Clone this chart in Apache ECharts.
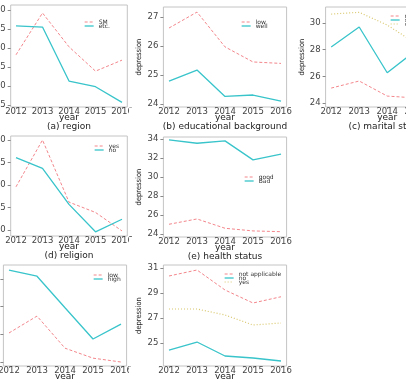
<!DOCTYPE html>
<html>
<head>
<meta charset="utf-8">
<title>depression by year</title>
<script src="https://cdn.jsdelivr.net/npm/echarts@6/dist/echarts.min.js"></script>
<style>
  html, body { margin: 0; padding: 0; background: #fff; }
  #chart { width: 406px; height: 379px; }
</style>
</head>
<body>
<div id="chart"></div>
<script>
const years = [2012, 2013, 2014, 2015, 2016];

// (a) region
const regionSM = [25.82, 26.92, 26.03, 25.39, 25.68];
const regionEtc = [26.58, 26.55, 25.13, 24.98, 24.57];
const regionTicks = ['24.5', '25.0', '25.5', '26.0', '26.5', '27.0'];

// (b) educational background
const eduLow = [26.62, 27.17, 25.97, 25.45, 25.40];
const eduWell = [24.79, 25.17, 24.26, 24.31, 24.10];
const eduTicks = ['24', '25', '26', '27'];

// (c) marital status (cut off on the right)
const maritalMarried = [25.12, 25.65, 24.52, 24.38, 24.50];
const maritalSingle = [28.20, 29.70, 26.27, 27.90, 27.40];
const maritalOther = [30.67, 30.80, 29.85, 28.50, 28.80];
const maritalTicks = ['24', '26', '28', '30'];

// (d) religion
const religionYes = [25.96, 27.00, 25.62, 25.39, 24.98];
const religionNo = [26.61, 26.37, 25.57, 24.96, 25.24];
const religionTicks = ['25.0', '25.5', '26.0', '26.5', '27.0'];

// (e) health status
const healthGood = [25.02, 25.58, 24.60, 24.32, 24.24];
const healthBad = [33.90, 33.55, 33.80, 31.80, 32.40];
const healthTicks = ['24', '26', '28', '30', '32', '34'];

// third row, captions are cut off at the bottom
const incomeLow = [25.05, 25.66, 24.50, 24.14, 24.00];
const incomeHigh = [27.32, 27.10, 25.96, 24.83, 25.37];
const incomeTicks = ['24', '25', '26', '27'];

const insuranceNA = [30.36, 30.84, 29.24, 28.20, 28.70];
const insuranceNo = [24.44, 25.08, 23.96, 23.80, 23.56];
const insuranceYes = [27.72, 27.72, 27.24, 26.44, 26.60];
const insuranceTicks = ['25', '27', '29', '31'];

const STYLES = {
  pink: { color: '#f3868c', width: 1, type: [3, 2] },
  teal: { color: '#38c4ca', width: 1.3, type: 'solid' },
  yellow: { color: '#d8c76c', width: 1.2, type: [1, 2] }
};

const FONT = 'DejaVu Sans';

const panels = [
  { rect: [10.7, 5, 116.6, 102], y: [24.447, 27.13], ticks: regionTicks, caption: '(a) region', legend: [84, 19],
    lines: [['SM', regionSM, 'pink'], ['etc.', regionEtc, 'teal']] },
  { rect: [163.4, 7, 123.2, 100], y: [23.897, 27.345], ticks: eduTicks, caption: '(b) educational background', legend: [241, 19],
    lines: [['low', eduLow, 'pink'], ['well', eduWell, 'teal']] },
  { rect: [325.6, 7, 123.2, 100], y: [23.7, 31.2], ticks: maritalTicks, caption: '(c) marital status', legend: [390, 13],
    lines: [['married', maritalMarried, 'pink'], ['single', maritalSingle, 'teal'], ['divorced', maritalOther, 'yellow']] },
  { rect: [10.7, 136, 116.6, 100], y: [24.867, 27.089], ticks: religionTicks, caption: '(d) religion', legend: [94, 143],
    lines: [['yes', religionYes, 'pink'], ['no', religionNo, 'teal']] },
  { rect: [163.4, 137, 123.2, 100], y: [23.68, 34.21], ticks: healthTicks, caption: '(e) health status', legend: [244, 174],
    lines: [['good', healthGood, 'pink'], ['Bad', healthBad, 'teal']] },
  { rect: [3.4, 265, 123.2, 101], y: [23.856, 27.506], ticks: incomeTicks, caption: '', legend: [93, 272],
    lines: [['low', incomeLow, 'pink'], ['high', incomeHigh, 'teal']] },
  { rect: [163.4, 265, 123.2, 101], y: [23.16, 31.24], ticks: insuranceTicks, caption: '', legend: [224, 271],
    lines: [['not applicable', insuranceNA, 'pink'], ['no', insuranceNo, 'teal'], ['yes', insuranceYes, 'yellow']] }
];

const option = {
  animation: false,
  backgroundColor: '#fff',
  grid: [], xAxis: [], yAxis: [], series: [], legend: [], graphic: []
};

panels.forEach((p, i) => {
  const [left, top, width, height] = p.rect;
  const tickValues = p.ticks.map(Number);

  option.grid.push({
    left, top, width, height,
    show: true, borderColor: '#c4c4c4', borderWidth: 1,
    outerBoundsMode: 'none'
  });

  option.xAxis.push({
    type: 'value', gridIndex: i, min: 2011.8, max: 2016.2,
    name: 'year', nameLocation: 'middle', nameGap: 6, nameMoveOverlap: false,
    nameTextStyle: { fontFamily: FONT, fontSize: 9, color: '#222' },
    axisLine: { show: false, onZero: false },
    splitLine: { show: false },
    axisTick: { customValues: years, length: 2, lineStyle: { color: '#888' } },
    axisLabel: {
      customValues: years, margin: 0, fontFamily: FONT, fontSize: 8.5, color: '#444',
      formatter: v => String(v)
    }
  });

  option.yAxis.push({
    type: 'value', gridIndex: i, min: p.y[0], max: p.y[1],
    name: 'depression', nameLocation: 'middle', nameGap: 20, nameRotate: 90, nameMoveOverlap: false,
    nameTextStyle: { fontFamily: "'Liberation Sans Narrow', 'DejaVu Sans Condensed', 'Liberation Sans', sans-serif", fontSize: 7.5, color: '#222' },
    axisLine: { show: false, onZero: false },
    splitLine: { show: false },
    axisTick: { customValues: tickValues, length: 3, lineStyle: { color: '#888' } },
    axisLabel: {
      customValues: tickValues, margin: 5, fontFamily: FONT, fontSize: 8.5, color: '#444',
      formatter: v => p.ticks.find(t => Math.abs(Number(t) - v) < 1e-6) || ''
    }
  });

  p.lines.forEach(([name, values, style]) => {
    option.series.push({
      name, type: 'line', xAxisIndex: i, yAxisIndex: i,
      data: years.map((yr, k) => [yr, values[k]]),
      symbol: 'none', silent: true,
      itemStyle: { color: STYLES[style].color },
      lineStyle: STYLES[style]
    });
  });

  option.legend.push({
    left: p.legend[0], top: p.legend[1],
    orient: 'vertical', padding: 0, itemGap: -2,
    itemWidth: 9, itemHeight: 4, selectedMode: false,
    textStyle: { fontFamily: FONT, fontSize: 6, lineHeight: 4, color: '#333' },
    data: p.lines.map(([name, , style]) => ({
      name, lineStyle: STYLES[style], itemStyle: { opacity: 0 }
    }))
  });

  if (p.caption) {
    option.graphic.push({
      type: 'text', x: left + width / 2, y: top + height + 20, z: 50,
      style: { text: p.caption, fontFamily: FONT, fontSize: 9, fill: '#222', align: 'center', verticalAlign: 'middle' }
    });
  }
});

// the neighbouring subfigure hides the last digit of the left column's "2016"
[107.5, 237, 366.5].forEach(y => {
  option.graphic.push({
    type: 'rect', z: 100,
    shape: { x: 129, y, width: 9, height: 10 },
    style: { fill: '#fff' }
  });
});

const myChart = echarts.init(document.getElementById('chart'), null, { renderer: 'canvas' });
myChart.setOption(option);
</script>
</body>
</html>
